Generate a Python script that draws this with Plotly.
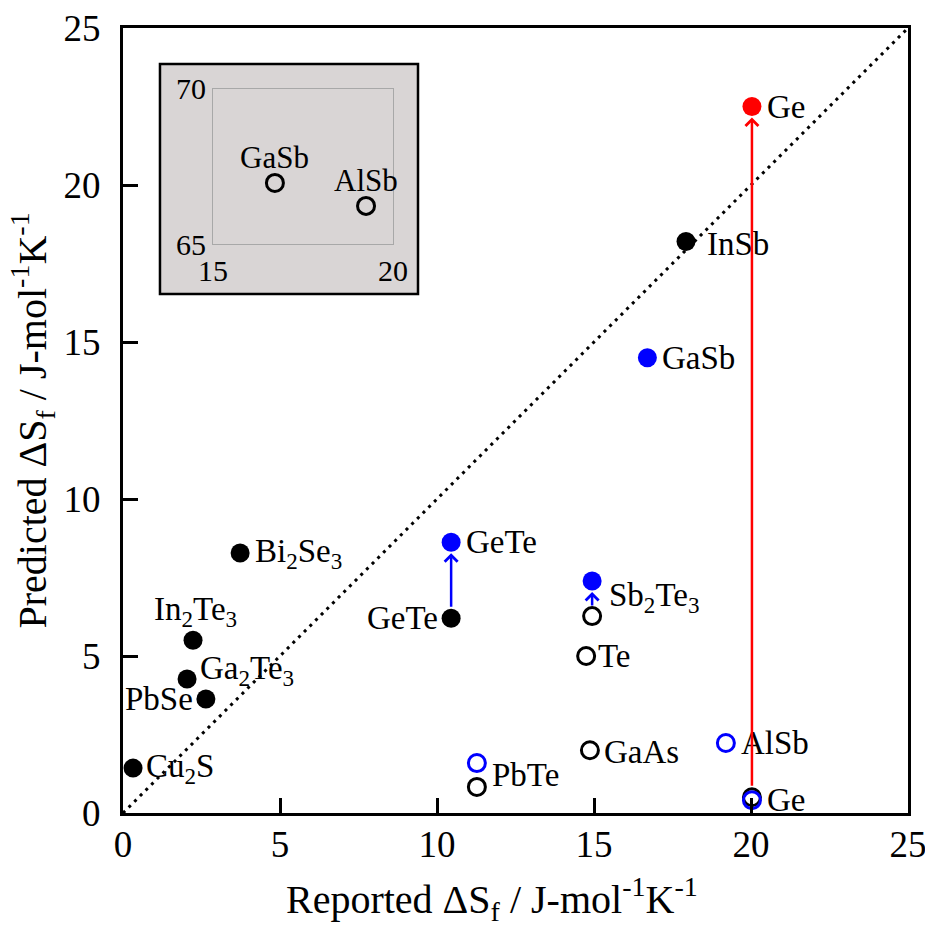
import plotly.graph_objects as go

# ---------------- data ----------------
black_names = ["Cu<sub>2</sub>S", "PbSe", "Ga<sub>2</sub>Te<sub>3</sub>", "In<sub>2</sub>Te<sub>3</sub>",
               "Bi<sub>2</sub>Se<sub>3</sub>", "GeTe", "InSb"]
black_x = [0.32, 2.64, 2.04, 2.23, 3.73, 10.45, 17.93]
black_y = [1.43, 3.63, 4.27, 5.50, 8.28, 6.20, 18.20]

blue_names = ["GeTe", "Sb<sub>2</sub>Te<sub>3</sub>", "GaSb"]
blue_x = [10.45, 14.94, 16.70]
blue_y = [8.62, 7.39, 14.50]

red_names = ["Ge"]
red_x = [20.03]
red_y = [22.50]

open_black_names = ["PbTe", "GaAs", "Te", "Sb2Te3", "Ge"]
open_black_x = [11.27, 14.87, 14.75, 14.94, 20.03]
open_black_y = [0.83, 2.00, 5.00, 6.27, 0.50]

open_blue_names = ["PbTe", "AlSb", "Ge"]
open_blue_x = [11.27, 19.20, 20.03]
open_blue_y = [1.59, 2.23, 0.41]

inset_names = ["GaSb", "AlSb"]
inset_x = [16.72, 19.25]
inset_y = [66.97, 66.23]

x_title = "Reported ΔS<sub>f</sub> / J-mol<sup>-1</sup>K<sup>-1</sup>"
y_title = "Predicted ΔS<sub>f</sub> / J-mol<sup>-1</sup>K<sup>-1</sup>"

FONT = "Liberation Serif, Times New Roman, serif"
BLUE = "#0000ff"
RED = "#ff0000"
LAB = 33

fig = go.Figure()

# parity line
fig.add_trace(go.Scatter(x=[0, 25], y=[0, 25], mode="lines",
                         line=dict(color="black", width=3, dash="3px,5px"),
                         hoverinfo="skip", showlegend=False))

fig.add_trace(go.Scatter(x=black_x, y=black_y, mode="markers",
                         marker=dict(color="black", size=19), showlegend=False))
fig.add_trace(go.Scatter(x=blue_x, y=blue_y, mode="markers",
                         marker=dict(color=BLUE, size=19), showlegend=False))
fig.add_trace(go.Scatter(x=red_x, y=red_y, mode="markers",
                         marker=dict(color=RED, size=19), showlegend=False))
fig.add_trace(go.Scatter(x=open_black_x, y=open_black_y, mode="markers",
                         marker=dict(symbol="circle-open", color="black", size=17,
                                     line=dict(width=3)), showlegend=False))
fig.add_trace(go.Scatter(x=open_blue_x, y=open_blue_y, mode="markers",
                         marker=dict(symbol="circle-open", color=BLUE, size=17,
                                     line=dict(width=3)), showlegend=False))

# inset
fig.add_trace(go.Scatter(x=inset_x, y=inset_y, mode="markers", xaxis="x2", yaxis="y2",
                         marker=dict(symbol="circle-open", color="black", size=17,
                                     line=dict(width=3)), showlegend=False))

annotations = []


def label(text, x, y, side="right", dx=0, dy=0, xref="x", yref="y", size=LAB):
    anchor = {"right": "left", "left": "right", "top": "center"}[side]
    xs = {"right": 11, "left": -11, "top": 0}[side] + dx
    annotations.append(dict(text=text, x=x, y=y, xref=xref, yref=yref, showarrow=False,
                            xanchor=anchor, yanchor="middle", xshift=xs, yshift=dy,
                            font=dict(family=FONT, size=size, color="black")))


# black filled labels
label(black_names[0], black_x[0], black_y[0], "right", 0, 0)
label(black_names[1], black_x[1], black_y[1], "left", 0, 0)
label(black_names[2], black_x[2], black_y[2], "right", 0, 8)
label(black_names[3], black_x[3], black_y[3], "top", 2, 29)
label(black_names[4], black_x[4], black_y[4], "right", 2, 0)
label(black_names[5], black_x[5], black_y[5], "left", 0, 0)
label(black_names[6], black_x[6], black_y[6], "right", 8, -2)
# blue filled
label(blue_names[0], blue_x[0], blue_y[0], "right", 2, 0)
label(blue_names[1], blue_x[1], blue_y[1], "right", 4, -17)
label(blue_names[2], blue_x[2], blue_y[2], "right", 2, 0)
label(red_names[0], red_x[0], red_y[0], "right", 2, 0)
# open black
label(open_black_names[0], open_black_x[0], open_black_y[0], "right", 2, 12)
label(open_black_names[1], open_black_x[1], open_black_y[1], "right", 1, -2)
label(open_black_names[2], open_black_x[2], open_black_y[2], "right", -1, 0)
# open blue
label(open_blue_names[1], open_blue_x[1], open_blue_y[1], "right", 2, 0)
label(open_blue_names[2], open_blue_x[2], open_blue_y[2], "right", 2, 0)
# inset labels
label(inset_names[0], inset_x[0], inset_y[0], "top", 0, 25, "x2", "y2", 31)
label(inset_names[1], inset_x[1], inset_y[1], "top", 0, 25, "x2", "y2", 31)

# axis titles
annotations.append(dict(text=x_title, xref="paper", yref="paper", x=0.5, y=0, xshift=-24,
                        yshift=-86, xanchor="center", yanchor="middle", showarrow=False,
                        font=dict(family=FONT, size=40, color="black")))
annotations.append(dict(text=y_title, xref="paper", yref="paper", x=0, y=0.5, xshift=-91,
                        yshift=0, xanchor="center", yanchor="middle", showarrow=False,
                        textangle=-90, font=dict(family=FONT, size=40, color="black")))


def arrow(x0, y0, x1, y1, color, ss, so):
    annotations.append(dict(x=x1, y=y1, ax=x0, ay=y0, xref="x", yref="y", axref="x", ayref="y",
                            showarrow=True, arrowhead=4, arrowsize=1.0, arrowwidth=2.5,
                            arrowcolor=color, standoff=so, startstandoff=ss, text=""))


arrow(open_black_x[4], open_black_y[4], red_x[0], red_y[0], RED, 10, 11)
arrow(black_x[5], black_y[5], blue_x[0], blue_y[0], BLUE, 10, 11)
arrow(open_black_x[3], open_black_y[3], blue_x[1], blue_y[1], BLUE, 9, 11)

shapes = [dict(type="rect", xref="paper", yref="paper", x0=0.0471, x1=0.3758, y0=0.661, y1=0.954,
               fillcolor="#d9d5d5", line=dict(color="black", width=2.5), layer="below")]

axis_common = dict(range=[0, 25], tickvals=[0, 5, 10, 15, 20, 25], ticks="inside", ticklen=15,
                   tickwidth=3, tickcolor="black", showline=True, linewidth=3, linecolor="black",
                   mirror=True, showgrid=False, zeroline=False, automargin=False,
                   ticklabeloverflow="allow",
                   tickfont=dict(family=FONT, size=37, color="black"))

inset_common = dict(ticks="", showline=True, linewidth=1, linecolor="#a8a8a8", mirror=True,
                    showgrid=False, zeroline=False, automargin=False,
                    tickfont=dict(family=FONT, size=30, color="black"))

fig.update_layout(
    width=925, height=927,
    margin=dict(l=123, r=17, t=28, b=114),
    paper_bgcolor="white", plot_bgcolor="rgba(0,0,0,0)",
    xaxis=dict(**axis_common, ticklabelstandoff=-3),
    yaxis=dict(**axis_common, ticklabelstandoff=12),
    xaxis2=dict(domain=[0.1146, 0.344], anchor="y2", range=[15, 20], tickvals=[15, 20],
                **inset_common),
    yaxis2=dict(domain=[0.7248, 0.9223], anchor="x2", range=[65, 70], tickvals=[65, 70],
                **inset_common),
    annotations=annotations,
    shapes=shapes,
)

fig.write_html("out.html", config={"displayModeBar": False},
               post_script="document.body.style.margin='0';")
